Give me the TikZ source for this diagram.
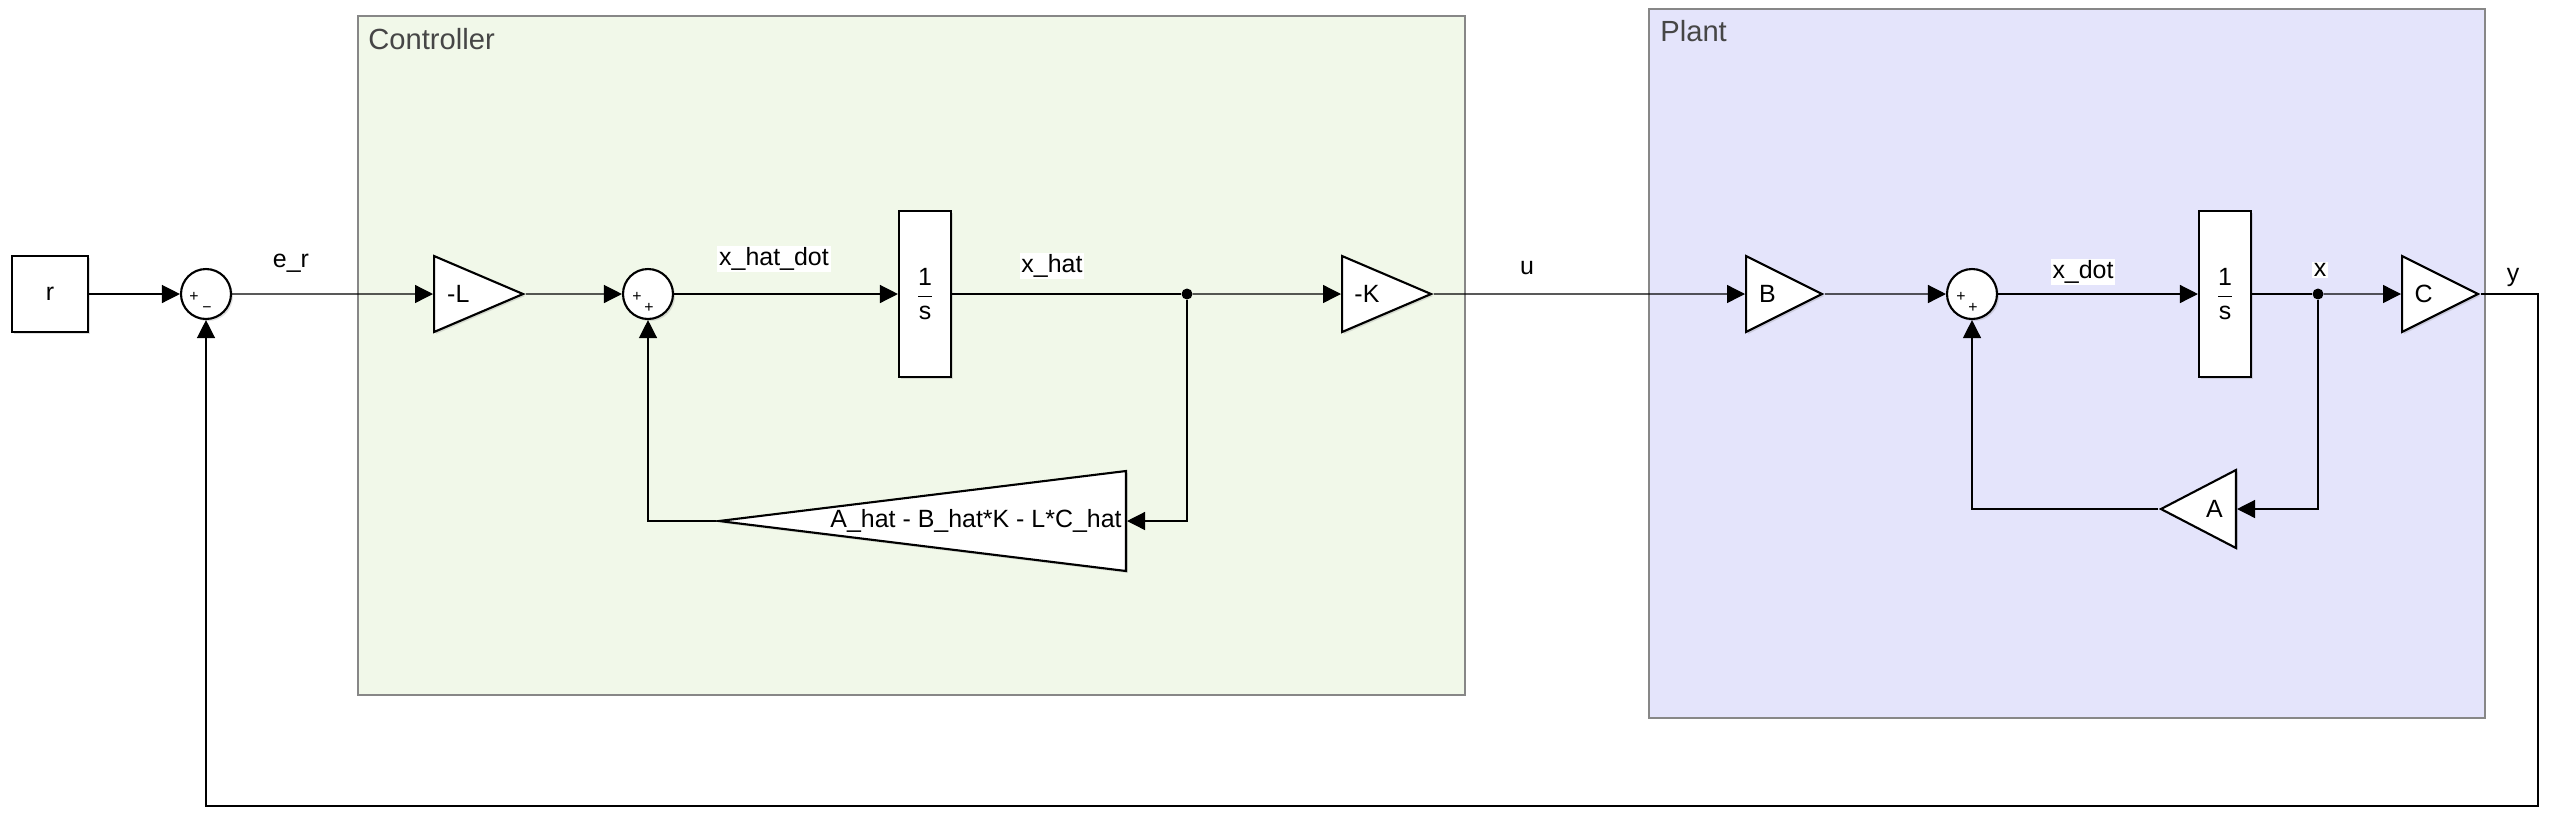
\documentclass[tikz,border=0pt]{standalone}
\usepackage{fontspec}
\setmainfont{Liberation Sans}
\usepackage{amsmath}
\usetikzlibrary{positioning,arrows.meta,shapes.geometric,shadows}
\definecolor{ctrlbg}{RGB}{241,248,233}
\definecolor{plantbg}{RGB}{228,228,251}
\definecolor{grpline}{RGB}{135,135,135}
\definecolor{grptext}{RGB}{70,70,70}

\begin{document}
\begin{tikzpicture}[x=0.02cm, y=-0.02cm, font=\fontsize{14.2}{17}\selectfont,
    blk/.style={draw, fill=white, line width=1.2pt, inner sep=0pt,
      drop shadow={shadow xshift=0.4mm, shadow yshift=-0.4mm, opacity=0.25}},
    gain/.style={blk, isosceles triangle, isosceles triangle stretches},
    sumnode/.style={blk, circle, minimum size=1cm},
    sgn/.style={font=\fontsize{9}{10}\selectfont, inner sep=0pt},
    dot/.style={circle, fill=black, inner sep=0pt, minimum size=0.22cm},
    sig/.style={line width=0.75pt, -{Triangle[length=3.6mm, width=3.6mm]}},
    wire/.style={line width=0.75pt},
    lbl/.style={fill=white, inner sep=1pt},
    grp/.style={draw=grpline, line width=0.8pt, inner sep=0pt},
    grptitle/.style={text=grptext, font=\fontsize{16.6}{20}\selectfont, inner sep=0pt, anchor=north west}]
        \useasboundingbox (0,0) rectangle (2552,826);
        \node[grp, fill=ctrlbg, minimum width=22.14cm, minimum height=13.58cm] (ctrl) at (911.5,355.5) {};
        \node[grp, fill=plantbg, minimum width=16.72cm, minimum height=14.18cm] (plant) at (2067,363.5) {};
        \node[grptitle] (ctrltitle) at (368,28) {Controller};
        \node[grptitle] (planttitle) at (1660,20) {Plant};

        \node[blk, minimum size=1.52cm] (r) at (50,294) {r};
        \node[sumnode] (s1) at (206,294) {};
        \node[sgn] (s1a) at (194,297) {+};
        \node[sgn] (s1b) at (207,310) {−};
        \node[gain, minimum height=1.78cm, minimum width=1.52cm, anchor=west] (gL) at (433,294) {-L};
        \node[sumnode] (s2) at (648,294) {};
        \node[sgn] (s2a) at (637,297) {+};
        \node[sgn] (s2b) at (649,308) {+};
        \node[blk, minimum width=1.04cm, minimum height=3.32cm] (int1) at (925,294) {\(\dfrac{\text{1}}{\text{s}}\)};
        \node[dot] (d1) at (1187,294) {};
        \node[gain, minimum height=1.78cm, minimum width=1.52cm, anchor=west] (gK) at (1341,294) {-K};
        \node[blk, isosceles triangle, isosceles triangle stretches, shape border rotate=180,
          minimum height=8.14cm, minimum width=2cm, anchor=east] (obs) at (1127,521) {};
        \node[inner sep=0pt, anchor=east] (obstxt) at (1122,521) {A\_hat - B\_hat*K - L*C\_hat};

        \node[gain, minimum height=1.52cm, minimum width=1.52cm, anchor=west] (gB) at (1745,294) {B};
        \node[sumnode] (s3) at (1972,294) {};
        \node[sgn] (s3a) at (1961,297) {+};
        \node[sgn] (s3b) at (1973,308) {+};
        \node[blk, minimum width=1.04cm, minimum height=3.32cm] (int2) at (2225,294) {\(\dfrac{\text{1}}{\text{s}}\)};
        \node[dot] (d2) at (2318,294) {};
        \node[gain, minimum height=1.52cm, minimum width=1.52cm, anchor=west] (gC) at (2401,294) {C};
        \node[gain, shape border rotate=180, minimum height=1.5cm, minimum width=1.56cm, anchor=east] (gA) at (2237,509) {A};

        \node[lbl] (ler) at (291,263) {e\_r};
        \node[lbl] (lxhd) at (774,259) {x\_hat\_dot};
        \node[lbl] (lxh) at (1052,266) {x\_hat};
        \node[lbl] (lu) at (1527,268) {u};
        \node[lbl] (lxd) at (2083,272) {x\_dot};
        \node[lbl] (lx) at (2320,270) {x};
        \node[lbl] (ly) at (2513,277) {y};
        \coordinate (ycorner) at (2538,806);

        \draw[sig] (r) -- (s1);
        \draw[sig] (s1) -- (gL);
        \draw[sig] (gL.apex) -- (s2);
        \draw[sig] (s2) -- (int1);
        \draw[wire] (int1) -- (d1);
        \draw[sig] (d1) -- (gK);
        \draw[sig] (d1) |- (obs.east);
        \draw[sig] (obs.apex) -| (s2.south);
        \draw[sig] (gK.apex) -- (gB);
        \draw[sig] (gB.apex) -- (s3);
        \draw[sig] (s3) -- (int2);
        \draw[wire] (int2) -- (d2);
        \draw[sig] (d2) -- (gC);
        \draw[sig] (d2) |- (gA.east);
        \draw[sig] (gA.apex) -| (s3.south);
        \draw[sig] (gC.apex) -| (ycorner) -| (s1.south);
      \end{tikzpicture}
\end{document}
